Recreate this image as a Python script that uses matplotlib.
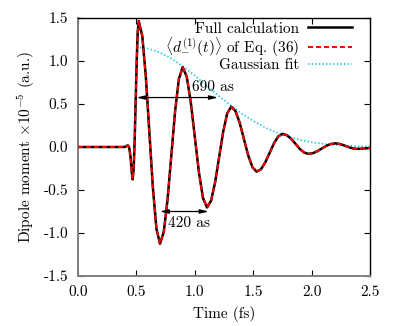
import matplotlib
matplotlib.use("Agg")
import matplotlib.pyplot as plt

plt.rcParams['font.family'] = ['cmr10', 'DejaVu Serif']
plt.rcParams['mathtext.fontset'] = 'cm'
plt.rcParams['axes.unicode_minus'] = False
plt.rcParams['axes.formatter.use_mathtext'] = True

# Full calculation (time in fs, dipole in 1e-5 a.u.)
t_full = [0.0, 0.40, 0.415, 0.425, 0.435, 0.440, 0.450, 0.458, 0.464, 0.468,
          0.4767, 0.4853, 0.494, 0.5027, 0.5113, 0.520,
          0.5503, 0.5807, 0.611, 0.6413, 0.6717, 0.702,
          0.7343, 0.7667, 0.799, 0.8313, 0.8637, 0.896,
          0.9308, 0.9657, 1.0005, 1.0353, 1.0702, 1.105,
          1.1395, 1.174, 1.2085, 1.243, 1.2775, 1.312,
          1.3483, 1.3847, 1.421, 1.4573, 1.4937, 1.530,
          1.567, 1.604, 1.641, 1.678, 1.715, 1.752,
          1.7887, 1.8253, 1.862, 1.8987, 1.9353, 1.972,
          2.010, 2.048, 2.086, 2.124, 2.162, 2.200,
          2.2317, 2.2633, 2.295, 2.3267, 2.3583, 2.390,
          2.445, 2.500]
d_full = [0.0, 0.0, 0.01, 0.02, 0.005, -0.02, -0.12, -0.25, -0.34, -0.376,
          -0.253, 0.084, 0.545, 1.005, 1.342, 1.465,
          1.292, 0.818, 0.170, -0.478, -0.952, -1.125,
          -0.988, -0.612, -0.099, 0.415, 0.791, 0.928,
          0.819, 0.520, 0.113, -0.295, -0.594, -0.703,
          -0.625, -0.410, -0.117, 0.176, 0.391, 0.469,
          0.418, 0.280, 0.091, -0.098, -0.236, -0.287,
          -0.258, -0.177, -0.067, 0.043, 0.124, 0.153,
          0.137, 0.095, 0.037, -0.022, -0.064, -0.080,
          -0.072, -0.050, -0.019, 0.012, 0.034, 0.042,
          0.038, 0.026, 0.010, -0.006, -0.018, -0.022,
          -0.018, -0.012]

# <d_-^(1)(t)> of Eq. (36) (visually coincides with full calculation)
t_model = list(t_full)
d_model = list(d_full)

# Gaussian fit envelope
t_gauss = [0.5, 0.6, 0.7, 0.8, 0.9, 1.0, 1.1, 1.2, 1.3, 1.4, 1.5,
           1.6, 1.7, 1.8, 1.9, 2.0, 2.1, 2.2, 2.3, 2.4, 2.5]
d_gauss = [1.160, 1.144, 1.099, 1.028, 0.936, 0.829, 0.715, 0.600, 0.491,
           0.390, 0.303, 0.228, 0.168, 0.120, 0.083, 0.056, 0.037, 0.024,
           0.015, 0.009, 0.005]

xticks = [0.0, 0.5, 1.0, 1.5, 2.0, 2.5]
xticklabels = ["0.0", "0.5", "1.0", "1.5", "2.0", "2.5"]
yticks = [-1.5, -1.0, -0.5, 0.0, 0.5, 1.0, 1.5]
yticklabels = ["-1.5", "-1.0", "-0.5", "0.0", "0.5", "1.0", "1.5"]

arrow690 = (0.50, 1.20, 0.575)
arrow420 = (0.70, 1.12, -0.75)

FS = 11

fig = plt.figure(figsize=(3.98, 3.26), dpi=100)
ax = fig.add_axes([0.196, 0.1534, 0.7336, 0.7914])

ax.plot(t_full, d_full, color='black', lw=1.8, label='Full calculation', zorder=3)
ax.plot(t_model, d_model, color='#ff0000', lw=1.4, dashes=(2.6, 1.5),
        label=r'$\langle d_{-}^{(1)}(t)\rangle$ of Eq. (36)', zorder=4)
ax.plot(t_gauss, d_gauss, color='#22cce0', lw=1.3, dashes=(0.8, 1.2),
        label='Gaussian fit', zorder=2)

ax.annotate('', xy=(arrow690[0], arrow690[2]), xytext=(arrow690[1], arrow690[2]),
            arrowprops=dict(arrowstyle='<|-|>,head_length=0.5,head_width=0.12',
                            color='black', lw=0.9, shrinkA=0, shrinkB=0), zorder=5)
ax.text(0.98, 0.70, '690 as', fontsize=FS, ha='left', va='center', zorder=6)
ax.annotate('', xy=(arrow420[0], arrow420[2]), xytext=(arrow420[1], arrow420[2]),
            arrowprops=dict(arrowstyle='<|-|>,head_length=0.5,head_width=0.12',
                            color='black', lw=0.9, shrinkA=0, shrinkB=0), zorder=5)
ax.text(0.773, -0.89, '420 as', fontsize=FS, ha='left', va='center', zorder=6)

ax.set_xlim(0, 2.5)
ax.set_ylim(-1.5, 1.5)
ax.set_xticks(xticks)
ax.set_xticklabels(xticklabels, fontsize=FS)
ax.set_yticks(yticks)
ax.set_yticklabels(yticklabels, fontsize=FS)
ax.tick_params(direction='in', length=4, width=0.8, top=True, right=True,
               pad=7, colors='black')
ax.set_xlabel('Time (fs)', fontsize=FS, labelpad=5)
ax.set_ylabel(r'Dipole moment $\times 10^{-5}$ (a.u.)', fontsize=FS, labelpad=5)

for s in ['left', 'bottom']:
    ax.spines[s].set_color('#808080')
    ax.spines[s].set_linewidth(1.4)
for s in ['top', 'right']:
    ax.spines[s].set_color('black')
    ax.spines[s].set_linewidth(1.0)

leg = ax.legend(loc='upper right', bbox_to_anchor=(0.94, 0.985), frameon=False,
                markerfirst=False, handlelength=2.9, handletextpad=0.6,
                labelspacing=0.0, borderpad=0, borderaxespad=0, fontsize=FS)

fig.savefig('out.png', dpi=100)
